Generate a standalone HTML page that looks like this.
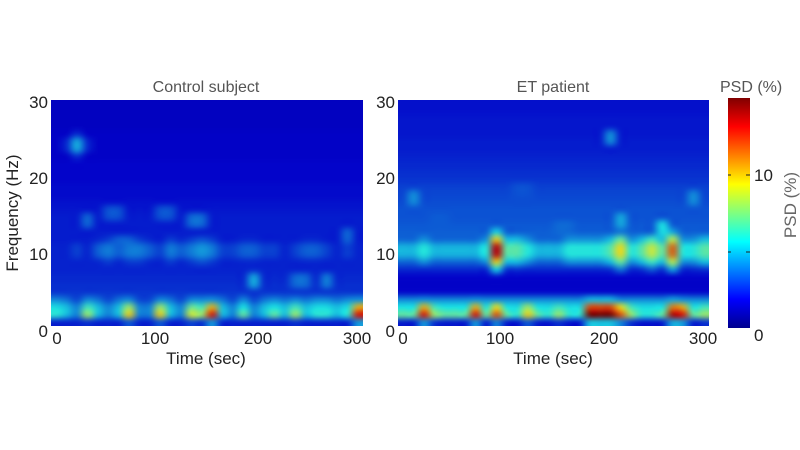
<!DOCTYPE html>
<html><head><meta charset="utf-8"><style>
body{margin:0;background:#fff;width:800px;height:450px;overflow:hidden;position:relative;font-family:"Liberation Sans",sans-serif}
canvas{position:absolute;filter:saturate(0.85) brightness(0.92)}
svg{position:absolute;left:0;top:0}
</style></head><body>
<canvas id="c1" width="312" height="226" style="left:51px;top:100px"></canvas>
<canvas id="c2" width="311" height="226" style="left:398px;top:100px"></canvas>
<div style="position:absolute;left:728px;top:98px;width:22px;height:230px;background:linear-gradient(to top,#00008f 0%,#0000ff 12.5%,#00ffff 37.5%,#ffff00 62.5%,#ff0000 87.5%,#800000 100%)"></div>
<svg width="800" height="450">
<g font-size="17" fill="#222">
<text x="206" y="92" text-anchor="middle" fill="#555" font-size="16">Control subject</text>
<text x="553" y="92" text-anchor="middle" fill="#555" font-size="16">ET patient</text>
<text x="720" y="92" fill="#555" font-size="16">PSD (%)</text>
<g text-anchor="end">
<text x="48" y="108">30</text><text x="48" y="184">20</text><text x="48" y="260">10</text><text x="48" y="337">0</text></g>
<g text-anchor="end">
<text x="395" y="108">30</text><text x="395" y="184">20</text><text x="395" y="260">10</text><text x="395" y="337">0</text></g>
<g text-anchor="middle">
<text x="57" y="344">0</text><text x="155" y="344">100</text><text x="258" y="344">200</text><text x="357" y="344">300</text></g>
<g text-anchor="middle">
<text x="403" y="344">0</text><text x="500" y="344">100</text><text x="604" y="344">200</text><text x="703" y="344">300</text></g>
<text x="206" y="364" text-anchor="middle">Time (sec)</text>
<text x="553" y="364" text-anchor="middle">Time (sec)</text>
<text transform="translate(18,213) rotate(-90)" text-anchor="middle">Frequency (Hz)</text>
<text x="754" y="181">10</text>
<text x="754" y="341">0</text>
<text transform="translate(796,205) rotate(-90)" text-anchor="middle" fill="#666">PSD (%)</text>
</g>
<g stroke="#222" stroke-width="1">
<line x1="746" y1="175" x2="750" y2="175"/><line x1="728" y1="175" x2="731" y2="175"/>
<line x1="746" y1="252" x2="750" y2="252"/><line x1="728" y1="252" x2="731" y2="252"/>
</g>
</svg>
<script>
// Control subject data (time bins 10 s, 0-300 s)
const ctrlLow=[6,5,4,8,5,4,5,10,4,4,10,5,4,9,8,13,5,4,7,4,5,7,5,8,5,6,6,5,6,13];
const ctrlMid=[2.5,2.5,3,2.5,3.5,4,3.5,4,4,3.5,3,4,3.5,4,4.5,4,3,3,3.5,3.5,3,3,2.5,3,3.5,3.5,3,2.5,3,2.5];
const ctrlBg=[2.4,2.5,2.6,2.7,2.7,2.6,2.5,2.4,2.4,2.4,2.4,2.3,2.3,2.3,2.3,2.2,2.1,2.0,2.0,1.9,1.9,1.9,1.8,1.8,1.8,1.8,1.7,1.7,1.7,1.7];
const ctrlSpots=[[25,24,5],[140,14,4.5],[195,6,5],[60,15,4],[110,15,4],[240,6,4.5],[265,6,4.2],[35,14,3.8],[70,11,4.3],[285,12,3.8]];
// ET patient data
const etLow=[7,7,13,8,7,7,7,13,7,12,7,6,10,7,6,8,6,6,15,15,15,12,8,6,6,7,14,13,7,8];
const etMid=[5,5,6,5,5,5,5,5,6,14,7,7,6,5,5,5,6,6,6,6,7,10,6,7,9,7,12,6,6,7];
const etBg=[2.2,2.2,2.3,2.2,2.0,1.8,1.9,2.5,3.2,3.5,3.5,3.5,3.4,3.3,3.2,3.2,3.1,3.0,2.9,2.7,2.6,2.5,2.4,2.3,2.3,2.2,2.2,2.2,2.1,2.1];
const etSpots=[[205,25,4.5],[15,17,4.5],[285,17,4.5],[255,13,6],[215,14,5],[120,18,4],[160,13,4.5],[40,14,4.2]];
const VMAX=15;
function jet(v){let t=Math.max(0,Math.min(1,v/VMAX));
 const r=Math.max(0,Math.min(1,1.5-Math.abs(4*t-3))),g=Math.max(0,Math.min(1,1.5-Math.abs(4*t-2))),b=Math.max(0,Math.min(1,1.5-Math.abs(4*t-1)));
 return [r*255,g*255,b*255];}
function draw(id,low,mid,bg,spots){
 const nt=low.length,nf=bg.length;
 const off=document.createElement('canvas');off.width=nt;off.height=nf;
 const o=off.getContext('2d');const img=o.createImageData(nt,nf);
 for(let i=0;i<nt;i++)for(let f=0;f<nf;f++){
  const fc=f+0.5,tc=i*10+5;
  let v=bg[f];
  const gl=Math.exp(-Math.pow((fc-1.7)/1.2,2)/2)*(fc<0.8?0.55:1);
  v=Math.max(v,low[i]*gl);
  v=Math.max(v,Math.min(low[i],5.5)*Math.exp(-Math.pow((fc-2.5)/1.3,2)/2));
  v=Math.max(v,mid[i]*Math.exp(-Math.pow((fc-10)/1.8,2)/2));
  spots.forEach(s=>{const d=Math.exp(-(Math.pow((tc-s[0])/9,2)+Math.pow((fc-s[1])/1.3,2))/2);v=Math.max(v,s[2]*d);});
  const c=jet(v),p=((nf-1-f)*nt+i)*4;
  img.data[p]=c[0];img.data[p+1]=c[1];img.data[p+2]=c[2];img.data[p+3]=255;}
 o.putImageData(img,0,0);
 const cv=document.getElementById(id),x=cv.getContext('2d');
 x.imageSmoothingEnabled=true;x.imageSmoothingQuality='high';
 x.drawImage(off,0,0,cv.width,cv.height);
}
draw('c1',ctrlLow,ctrlMid,ctrlBg,ctrlSpots);
draw('c2',etLow,etMid,etBg,etSpots);
</script>
</body></html>
